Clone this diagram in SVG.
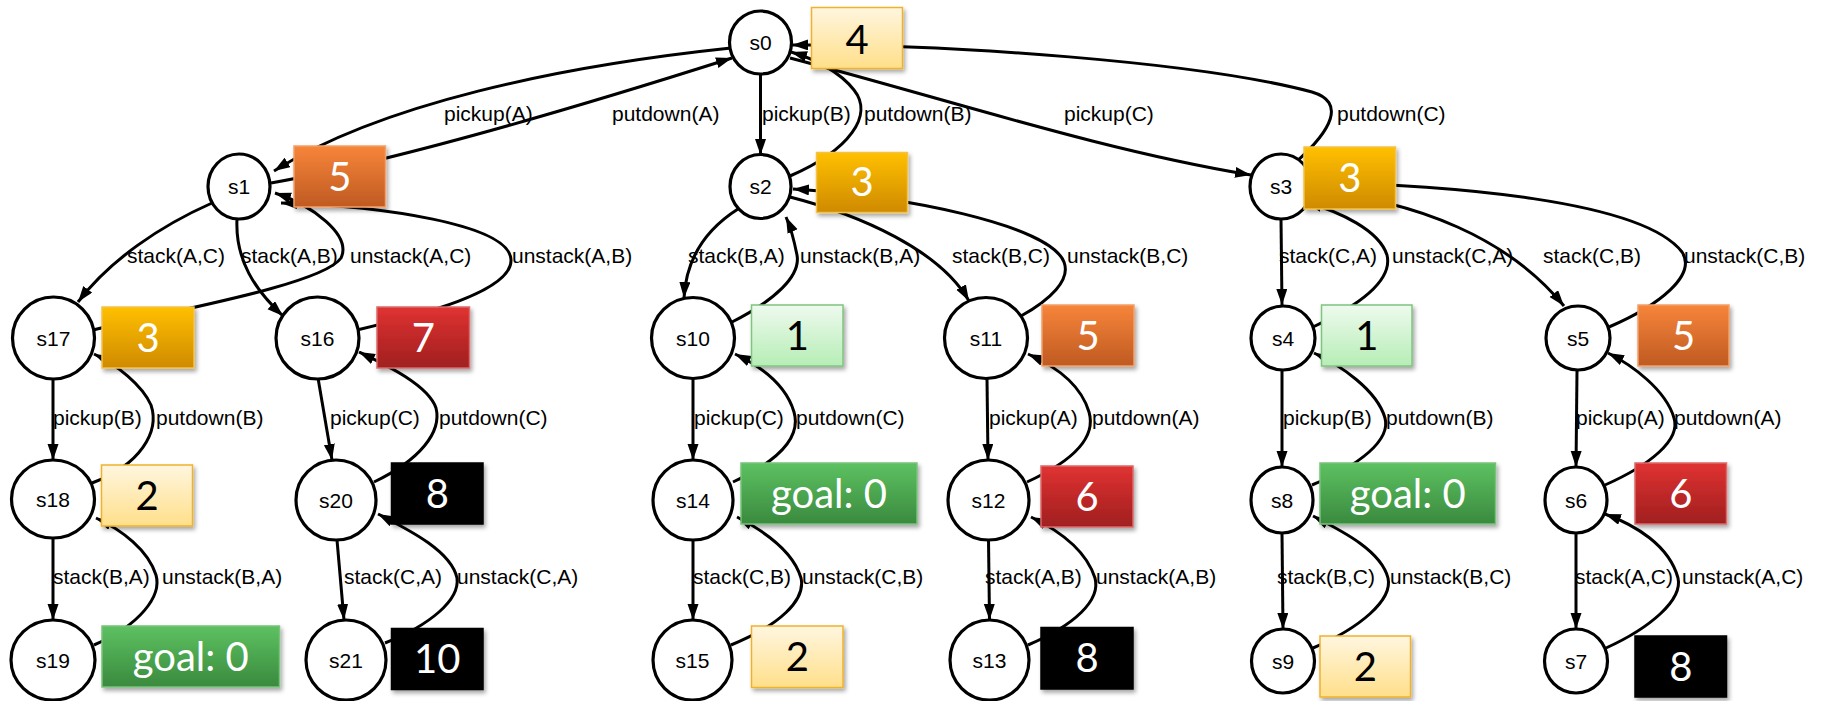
<svg xmlns="http://www.w3.org/2000/svg" width="1825" height="701" viewBox="0 0 1825 701">
  <style>
    .edge { fill: none; stroke: #000; stroke-width: 3; marker-end: url(#arrow); }
    .state ellipse { fill: #fff; stroke: #000; stroke-width: 3.2; }
    .state text { font-family: "Liberation Sans", Arial, sans-serif; font-size: 21px; text-anchor: middle; fill: #000; }
    .lbl { font-family: "Liberation Sans", Arial, sans-serif; font-size: 21px; fill: #000; }
    .score rect { stroke-width: 1.5; filter: url(#shadow); }
    .score text { font-family: Lato, "Open Sans", sans-serif; font-size: 40px; text-anchor: middle; }
    .dark { fill: #000; }
    .light { fill: #fff; }
    .ylw { fill: url(#gYellow); stroke: #efb22e; }
    .gold { fill: url(#gGold); stroke: #f3c24a; }
    .org { fill: url(#gOrange); stroke: #f3a06a; }
    .red { fill: url(#gRed); stroke: #dc6a6a; }
    .lgr { fill: url(#gLightGreen); stroke: #7fc47f; }
    .grn { fill: url(#gGreen); stroke: #79c27c; }
    .blk { fill: #000; stroke: #000; }
  </style>
  <defs>
    <marker id="arrow" markerUnits="userSpaceOnUse" markerWidth="18" markerHeight="12" refX="16" refY="5.5" orient="auto">
      <path d="M0,0 L16,5.5 L0,11 z" fill="#000"/>
    </marker>
    <filter id="shadow" x="-10%" y="-10%" width="125%" height="135%">
      <feDropShadow dx="2" dy="3" stdDeviation="2" flood-color="#000" flood-opacity="0.35"/>
    </filter>
    <linearGradient id="gYellow" x1="0" y1="0" x2="0" y2="1">
      <stop offset="0" stop-color="#fff6df"/><stop offset="1" stop-color="#ffdf8a"/>
    </linearGradient>
    <linearGradient id="gGold" x1="0" y1="0" x2="0" y2="1">
      <stop offset="0" stop-color="#ffc000"/><stop offset="1" stop-color="#cf8a00"/>
    </linearGradient>
    <linearGradient id="gOrange" x1="0" y1="0" x2="0" y2="1">
      <stop offset="0" stop-color="#f7853a"/><stop offset="1" stop-color="#bf5a22"/>
    </linearGradient>
    <linearGradient id="gRed" x1="0" y1="0" x2="0" y2="1">
      <stop offset="0" stop-color="#e03232"/><stop offset="1" stop-color="#a01f1f"/>
    </linearGradient>
    <linearGradient id="gLightGreen" x1="0" y1="0" x2="0" y2="1">
      <stop offset="0" stop-color="#eefaee"/><stop offset="1" stop-color="#b6edb6"/>
    </linearGradient>
    <linearGradient id="gGreen" x1="0" y1="0" x2="0" y2="1">
      <stop offset="0" stop-color="#5dc161"/><stop offset="1" stop-color="#3a8a3e"/>
    </linearGradient>
  </defs>

  <!-- transitions -->
  <g id="edges">
    <!-- s0 fan-out -->
    <path class="edge" d="M731,48 C560,66 380,104 274,171"/>
    <path class="edge" d="M271,183 C400,160 600,100 732,58"/>
    <path class="edge" d="M760.5,74 L760.5,155"/>
    <path class="edge" d="M790,176 C850,150 874,115 854,90 C840,72 815,59 791,52"/>
    <path class="edge" d="M790,58 C950,100 1100,150 1251,175"/>
    <path class="edge" d="M1296,162 C1332,130 1346,102 1312,92 C1200,62 950,44 792,45"/>
    <!-- s1 subtree -->
    <path class="edge" d="M212,203 C160,226 110,260 78,302"/>
    <path class="edge" d="M237,219 C235,260 255,290 283,316"/>
    <path class="edge" d="M93,330 C150,315 322,286 341,258 C352,235 312,205 275,193"/>
    <path class="edge" d="M357,330 C420,315 512,292 511,260 C510,224 380,206 281,203"/>
    <path class="edge" d="M53,378 L53,460"/>
    <path class="edge" d="M92,483 C140,465 160,432 151,405 C142,385 117,365 94,354"/>
    <path class="edge" d="M53,538 L53,620"/>
    <path class="edge" d="M94,645 C140,625 162,596 156,575 C148,550 122,530 96,518"/>
    <path class="edge" d="M318,378 L332,460"/>
    <path class="edge" d="M374,482 C420,460 442,432 436,408 C428,385 386,365 359,352"/>
    <path class="edge" d="M337,540 L344,620"/>
    <path class="edge" d="M385,643 C430,625 460,600 457,578 C451,550 405,528 378,514"/>
    <!-- s2 subtree -->
    <path class="edge" d="M738,209 C705,230 686,260 684,298"/>
    <path class="edge" d="M732,322 C775,300 801,276 797,255 C794,240 791,228 786,217"/>
    <path class="edge" d="M790,197 C860,215 940,250 969,301"/>
    <path class="edge" d="M1021,316 C1050,300 1071,280 1064,262 C1050,225 900,195 793,189"/>
    <path class="edge" d="M693,379 L693,460"/>
    <path class="edge" d="M733,482 C780,460 801,436 794,412 C786,385 760,366 735,354"/>
    <path class="edge" d="M693,540 L693,620"/>
    <path class="edge" d="M731,645 C780,625 806,600 801,578 C793,550 762,530 737,517"/>
    <path class="edge" d="M987,379 L988,460"/>
    <path class="edge" d="M1027,482 C1075,460 1096,436 1089,412 C1081,385 1055,366 1028,354"/>
    <path class="edge" d="M988.5,540 L989.5,620"/>
    <path class="edge" d="M1028,645 C1075,625 1101,600 1095,578 C1086,550 1058,530 1031,517"/>
    <!-- s3 subtree -->
    <path class="edge" d="M1281,219 L1282,305"/>
    <path class="edge" d="M1313,327 C1360,305 1393,280 1387,255 C1379,230 1340,212 1306,202"/>
    <path class="edge" d="M1306,190 C1420,200 1510,240 1564,306"/>
    <path class="edge" d="M1609,327 C1660,305 1697,275 1682,252 C1642,200 1450,185 1307,182"/>
    <path class="edge" d="M1282,371 L1282,467"/>
    <path class="edge" d="M1312,485 C1360,465 1391,440 1385,418 C1377,390 1340,365 1314,353"/>
    <path class="edge" d="M1282,533 L1283,629"/>
    <path class="edge" d="M1313,648 C1360,628 1393,600 1388,578 C1381,550 1340,530 1313,516"/>
    <path class="edge" d="M1577,371 L1576,467"/>
    <path class="edge" d="M1605,485 C1650,465 1681,440 1674,418 C1666,390 1632,365 1608,353"/>
    <path class="edge" d="M1576,533 L1576,629"/>
    <path class="edge" d="M1606,648 C1650,628 1683,600 1678,578 C1669,545 1635,525 1605,514"/>
  </g>

  <!-- transition labels -->
  <g id="edge-labels">
    <text class="lbl" x="444" y="121">pickup(A)</text>
    <text class="lbl" x="612" y="121">putdown(A)</text>
    <text class="lbl" x="762" y="121">pickup(B)</text>
    <text class="lbl" x="864" y="121">putdown(B)</text>
    <text class="lbl" x="1064" y="121">pickup(C)</text>
    <text class="lbl" x="1337" y="121">putdown(C)</text>

    <text class="lbl" x="127" y="263">stack(A,C)</text>
    <text class="lbl" x="241" y="263">stack(A,B)</text>
    <text class="lbl" x="350" y="263">unstack(A,C)</text>
    <text class="lbl" x="512" y="263">unstack(A,B)</text>
    <text class="lbl" x="688" y="263">stack(B,A)</text>
    <text class="lbl" x="800" y="263">unstack(B,A)</text>
    <text class="lbl" x="952" y="263">stack(B,C)</text>
    <text class="lbl" x="1067" y="263">unstack(B,C)</text>
    <text class="lbl" x="1279" y="263">stack(C,A)</text>
    <text class="lbl" x="1392" y="263">unstack(C,A)</text>
    <text class="lbl" x="1543" y="263">stack(C,B)</text>
    <text class="lbl" x="1684" y="263">unstack(C,B)</text>

    <text class="lbl" x="53" y="425">pickup(B)</text>
    <text class="lbl" x="156" y="425">putdown(B)</text>
    <text class="lbl" x="330" y="425">pickup(C)</text>
    <text class="lbl" x="439" y="425">putdown(C)</text>
    <text class="lbl" x="694" y="425">pickup(C)</text>
    <text class="lbl" x="796" y="425">putdown(C)</text>
    <text class="lbl" x="989" y="425">pickup(A)</text>
    <text class="lbl" x="1092" y="425">putdown(A)</text>
    <text class="lbl" x="1283" y="425">pickup(B)</text>
    <text class="lbl" x="1386" y="425">putdown(B)</text>
    <text class="lbl" x="1576" y="425">pickup(A)</text>
    <text class="lbl" x="1674" y="425">putdown(A)</text>

    <text class="lbl" x="53" y="584">stack(B,A)</text>
    <text class="lbl" x="162" y="584">unstack(B,A)</text>
    <text class="lbl" x="344" y="584">stack(C,A)</text>
    <text class="lbl" x="457" y="584">unstack(C,A)</text>
    <text class="lbl" x="693" y="584">stack(C,B)</text>
    <text class="lbl" x="802" y="584">unstack(C,B)</text>
    <text class="lbl" x="985" y="584">stack(A,B)</text>
    <text class="lbl" x="1096" y="584">unstack(A,B)</text>
    <text class="lbl" x="1277" y="584">stack(B,C)</text>
    <text class="lbl" x="1390" y="584">unstack(B,C)</text>
    <text class="lbl" x="1575" y="584">stack(A,C)</text>
    <text class="lbl" x="1682" y="584">unstack(A,C)</text>
  </g>

  <!-- states -->
  <g id="s0" class="state"><ellipse cx="760.5" cy="42.5" rx="31" ry="31.5"/><text x="760.5" y="50">s0</text></g>
  <g id="s1" class="state"><ellipse cx="239" cy="186.5" rx="31" ry="32.5"/><text x="239" y="194">s1</text></g>
  <g id="s2" class="state"><ellipse cx="760.5" cy="186.5" rx="30.5" ry="32"/><text x="760.5" y="194">s2</text></g>
  <g id="s3" class="state"><ellipse cx="1281" cy="186.5" rx="31" ry="32.5"/><text x="1281" y="194">s3</text></g>
  <g id="s17" class="state"><ellipse cx="53.5" cy="338" rx="41" ry="41"/><text x="53.5" y="345.5">s17</text></g>
  <g id="s16" class="state"><ellipse cx="317.5" cy="338" rx="41.5" ry="41"/><text x="317.5" y="345.5">s16</text></g>
  <g id="s10" class="state"><ellipse cx="693" cy="338" rx="41.5" ry="40.5"/><text x="693" y="345.5">s10</text></g>
  <g id="s11" class="state"><ellipse cx="986" cy="338" rx="41.5" ry="40.5"/><text x="986" y="345.5">s11</text></g>
  <g id="s4" class="state"><ellipse cx="1283" cy="338" rx="32" ry="32"/><text x="1283" y="345.5">s4</text></g>
  <g id="s5" class="state"><ellipse cx="1578" cy="338" rx="32" ry="32"/><text x="1578" y="345.5">s5</text></g>
  <g id="s18" class="state"><ellipse cx="53" cy="499" rx="41.5" ry="39"/><text x="53" y="506.5">s18</text></g>
  <g id="s20" class="state"><ellipse cx="336" cy="500" rx="40" ry="40"/><text x="336" y="507.5">s20</text></g>
  <g id="s14" class="state"><ellipse cx="693" cy="500" rx="40" ry="40"/><text x="693" y="507.5">s14</text></g>
  <g id="s12" class="state"><ellipse cx="988.5" cy="500" rx="40.5" ry="40"/><text x="988.5" y="507.5">s12</text></g>
  <g id="s8" class="state"><ellipse cx="1282" cy="500" rx="31" ry="33"/><text x="1282" y="507.5">s8</text></g>
  <g id="s6" class="state"><ellipse cx="1576" cy="500" rx="31" ry="33"/><text x="1576" y="507.5">s6</text></g>
  <g id="s19" class="state"><ellipse cx="53" cy="660" rx="42" ry="40"/><text x="53" y="667.5">s19</text></g>
  <g id="s21" class="state"><ellipse cx="346" cy="660" rx="40" ry="40"/><text x="346" y="667.5">s21</text></g>
  <g id="s15" class="state"><ellipse cx="692.5" cy="660" rx="39.5" ry="40"/><text x="692.5" y="667.5">s15</text></g>
  <g id="s13" class="state"><ellipse cx="989.5" cy="660" rx="39.5" ry="40"/><text x="989.5" y="667.5">s13</text></g>
  <g id="s9" class="state"><ellipse cx="1283" cy="661" rx="31.5" ry="32"/><text x="1283" y="668.5">s9</text></g>
  <g id="s7" class="state"><ellipse cx="1576" cy="661" rx="31.5" ry="32"/><text x="1576" y="668.5">s7</text></g>

  <!-- heuristic values -->
  <g id="h-s0" class="score"><rect class="ylw" x="811.5" y="7.5" width="91" height="61"/><text class="dark" x="857" y="54">4</text></g>
  <g id="h-s1" class="score"><rect class="org" x="294" y="146" width="91.5" height="61"/><text class="light" x="339.75" y="190.5">5</text></g>
  <g id="h-s2" class="score"><rect class="gold" x="816.5" y="152.5" width="91" height="60"/><text class="light" x="862" y="196">3</text></g>
  <g id="h-s3" class="score"><rect class="gold" x="1304" y="147" width="91.5" height="62"/><text class="light" x="1349.75" y="192">3</text></g>
  <g id="h-s17" class="score"><rect class="gold" x="102" y="307" width="92" height="61"/><text class="light" x="148" y="351.5">3</text></g>
  <g id="h-s16" class="score"><rect class="red" x="377" y="307" width="92.5" height="61"/><text class="light" x="423.25" y="351.5">7</text></g>
  <g id="h-s10" class="score"><rect class="lgr" x="751.5" y="305" width="91.5" height="61"/><text class="dark" x="797.25" y="349.5">1</text></g>
  <g id="h-s11" class="score"><rect class="org" x="1042" y="305" width="92" height="61"/><text class="light" x="1088" y="349.5">5</text></g>
  <g id="h-s4" class="score"><rect class="lgr" x="1321.5" y="305" width="90.5" height="61"/><text class="dark" x="1366.75" y="349.5">1</text></g>
  <g id="h-s5" class="score"><rect class="org" x="1638" y="305" width="91" height="61"/><text class="light" x="1683.5" y="349.5">5</text></g>
  <g id="h-s18" class="score"><rect class="ylw" x="101.5" y="465" width="91" height="61"/><text class="dark" x="147" y="509.5">2</text></g>
  <g id="h-s20" class="score"><rect class="blk" x="391.5" y="463" width="91.5" height="61"/><text class="light" x="437.25" y="507.5">8</text></g>
  <g id="h-s14" class="score"><rect class="grn" x="741" y="463" width="176" height="61"/><text class="light" x="829" y="507.5">goal: 0</text></g>
  <g id="h-s12" class="score"><rect class="red" x="1041" y="466" width="92" height="61"/><text class="light" x="1087" y="510.5">6</text></g>
  <g id="h-s8" class="score"><rect class="grn" x="1320" y="463" width="175.5" height="61"/><text class="light" x="1407.75" y="507.5">goal: 0</text></g>
  <g id="h-s6" class="score"><rect class="red" x="1635" y="463" width="91.5" height="61"/><text class="light" x="1680.75" y="507.5">6</text></g>
  <g id="h-s19" class="score"><rect class="grn" x="102" y="626" width="177.5" height="61"/><text class="light" x="190.75" y="670.5">goal: 0</text></g>
  <g id="h-s21" class="score"><rect class="blk" x="391.5" y="628.5" width="91.5" height="61"/><text class="light" x="437.25" y="673">10</text></g>
  <g id="h-s15" class="score"><rect class="ylw" x="751.5" y="626" width="91.5" height="61.5"/><text class="dark" x="797.25" y="670.5">2</text></g>
  <g id="h-s13" class="score"><rect class="blk" x="1041" y="627.5" width="92" height="61.5"/><text class="light" x="1087" y="672">8</text></g>
  <g id="h-s9" class="score"><rect class="ylw" x="1320" y="636" width="90.5" height="61"/><text class="dark" x="1365.25" y="680.5">2</text></g>
  <g id="h-s7" class="score"><rect class="blk" x="1635" y="636" width="91.5" height="61"/><text class="light" x="1680.75" y="680.5">8</text></g>
</svg>
